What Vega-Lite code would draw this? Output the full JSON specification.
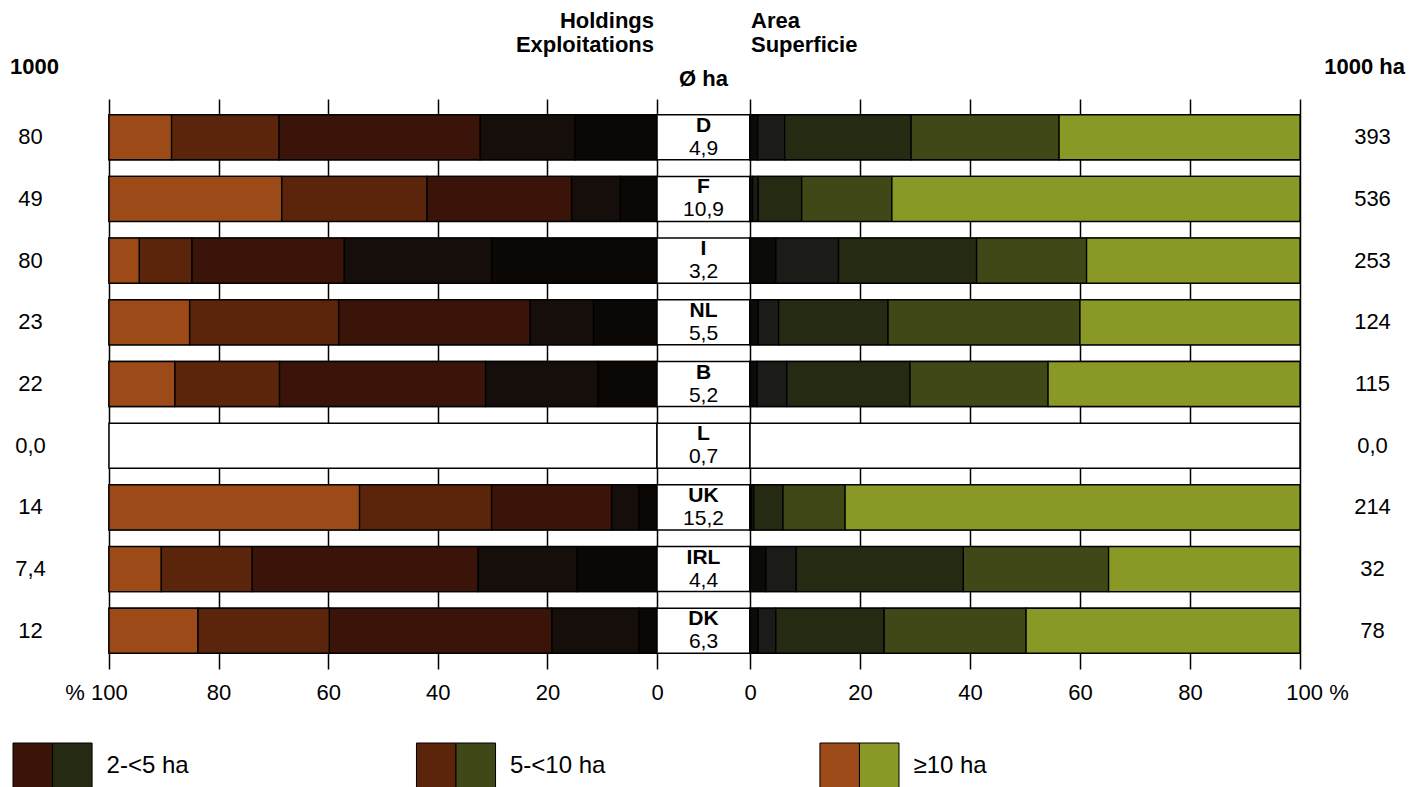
{
  "$schema": "https://vega.github.io/schema/vega-lite/v6.json",
  "background": "white",
  "padding": {"left": 0, "right": 0, "top": 10, "bottom": 0},
  "config": {
    "font": "Liberation Sans",
    "view": {"stroke": null},
    "title": {"fontSize": 22, "fontWeight": "bold", "color": "black", "font": "Liberation Sans", "lineHeight": 24, "frame": "group"},
    "text": {"font": "Liberation Sans", "fontSize": 22, "color": "black"}
  },
  "datasets": {
    "countries": [
      {"country": "D", "holdings_k": "80", "area_k": "393", "avg": "4,9"},
      {"country": "F", "holdings_k": "49", "area_k": "536", "avg": "10,9"},
      {"country": "I", "holdings_k": "80", "area_k": "253", "avg": "3,2"},
      {"country": "NL", "holdings_k": "23", "area_k": "124", "avg": "5,5"},
      {"country": "B", "holdings_k": "22", "area_k": "115", "avg": "5,2"},
      {"country": "L", "holdings_k": "0,0", "area_k": "0,0", "avg": "0,7"},
      {"country": "UK", "holdings_k": "14", "area_k": "214", "avg": "15,2"},
      {"country": "IRL", "holdings_k": "7,4", "area_k": "32", "avg": "4,4"},
      {"country": "DK", "holdings_k": "12", "area_k": "78", "avg": "6,3"}
    ],
    "sizes": [
      {"country": "D", "cls": "<1 ha", "rank": 1, "holdings": 15.0, "area": 1.4},
      {"country": "D", "cls": "1-<2 ha", "rank": 2, "holdings": 17.3, "area": 4.9},
      {"country": "D", "cls": "2-<5 ha", "rank": 3, "holdings": 36.7, "area": 23.0},
      {"country": "D", "cls": "5-<10 ha", "rank": 4, "holdings": 19.6, "area": 26.9},
      {"country": "D", "cls": "≥10 ha", "rank": 5, "holdings": 11.4, "area": 43.8},
      {"country": "F", "cls": "<1 ha", "rank": 1, "holdings": 6.7, "area": 0.5},
      {"country": "F", "cls": "1-<2 ha", "rank": 2, "holdings": 8.9, "area": 1.0},
      {"country": "F", "cls": "2-<5 ha", "rank": 3, "holdings": 26.4, "area": 7.9},
      {"country": "F", "cls": "5-<10 ha", "rank": 4, "holdings": 26.5, "area": 16.4},
      {"country": "F", "cls": "≥10 ha", "rank": 5, "holdings": 31.5, "area": 74.2},
      {"country": "I", "cls": "<1 ha", "rank": 1, "holdings": 30.2, "area": 4.7},
      {"country": "I", "cls": "1-<2 ha", "rank": 2, "holdings": 26.9, "area": 11.4},
      {"country": "I", "cls": "2-<5 ha", "rank": 3, "holdings": 27.8, "area": 25.1},
      {"country": "I", "cls": "5-<10 ha", "rank": 4, "holdings": 9.6, "area": 20.0},
      {"country": "I", "cls": "≥10 ha", "rank": 5, "holdings": 5.5, "area": 38.8},
      {"country": "NL", "cls": "<1 ha", "rank": 1, "holdings": 11.6, "area": 1.5},
      {"country": "NL", "cls": "1-<2 ha", "rank": 2, "holdings": 11.6, "area": 3.7},
      {"country": "NL", "cls": "2-<5 ha", "rank": 3, "holdings": 34.9, "area": 19.9},
      {"country": "NL", "cls": "5-<10 ha", "rank": 4, "holdings": 27.2, "area": 34.9},
      {"country": "NL", "cls": "≥10 ha", "rank": 5, "holdings": 14.7, "area": 40.0},
      {"country": "B", "cls": "<1 ha", "rank": 1, "holdings": 10.8, "area": 1.3},
      {"country": "B", "cls": "1-<2 ha", "rank": 2, "holdings": 20.5, "area": 5.4},
      {"country": "B", "cls": "2-<5 ha", "rank": 3, "holdings": 37.6, "area": 22.4},
      {"country": "B", "cls": "5-<10 ha", "rank": 4, "holdings": 19.1, "area": 25.1},
      {"country": "B", "cls": "≥10 ha", "rank": 5, "holdings": 12.0, "area": 45.8},
      {"country": "UK", "cls": "<1 ha", "rank": 1, "holdings": 3.3, "area": 0.3},
      {"country": "UK", "cls": "1-<2 ha", "rank": 2, "holdings": 5.0, "area": 0.4},
      {"country": "UK", "cls": "2-<5 ha", "rank": 3, "holdings": 21.9, "area": 5.3},
      {"country": "UK", "cls": "5-<10 ha", "rank": 4, "holdings": 24.1, "area": 11.3},
      {"country": "UK", "cls": "≥10 ha", "rank": 5, "holdings": 45.7, "area": 82.7},
      {"country": "IRL", "cls": "<1 ha", "rank": 1, "holdings": 14.6, "area": 2.9},
      {"country": "IRL", "cls": "1-<2 ha", "rank": 2, "holdings": 18.1, "area": 5.5},
      {"country": "IRL", "cls": "2-<5 ha", "rank": 3, "holdings": 41.2, "area": 30.4},
      {"country": "IRL", "cls": "5-<10 ha", "rank": 4, "holdings": 16.6, "area": 26.4},
      {"country": "IRL", "cls": "≥10 ha", "rank": 5, "holdings": 9.5, "area": 34.8},
      {"country": "DK", "cls": "<1 ha", "rank": 1, "holdings": 3.3, "area": 1.5},
      {"country": "DK", "cls": "1-<2 ha", "rank": 2, "holdings": 15.9, "area": 3.2},
      {"country": "DK", "cls": "2-<5 ha", "rank": 3, "holdings": 40.6, "area": 19.7},
      {"country": "DK", "cls": "5-<10 ha", "rank": 4, "holdings": 24.0, "area": 25.8},
      {"country": "DK", "cls": "≥10 ha", "rank": 5, "holdings": 16.2, "area": 49.8}
    ],
    "legend": [
      {"cls": "2-<5 ha", "side": "Holdings"},
      {"cls": "2-<5 ha", "side": "Area"},
      {"cls": "5-<10 ha", "side": "Holdings"},
      {"cls": "5-<10 ha", "side": "Area"},
      {"cls": "≥10 ha", "side": "Holdings"},
      {"cls": "≥10 ha", "side": "Area"}
    ]
  },
  "spacing": 39,
  "resolve": {"scale": {"color": "independent"}},
  "vconcat": [
    {
      "spacing": 0,
      "bounds": "flush",
      "resolve": {"scale": {"color": "independent"}},
      "hconcat": [
        {
          "width": 109,
          "height": 570,
          "data": {"name": "countries"},
          "title": {"text": "1000", "anchor": "start", "offset": 20, "dx": 10},
          "mark": {"type": "text", "fontSize": 22, "dx": -24},
          "encoding": {
            "y": {"field": "country", "type": "nominal", "sort": ["D","F","I","NL","B","L","UK","IRL","DK"], "axis": null,
                  "scale": {"type": "band", "paddingInner": 0.27, "paddingOuter": 0.255}},
            "text": {"field": "holdings_k", "type": "nominal"}
          }
        },
        {
          "width": 548,
          "height": 570,
          "title": {"text": ["Holdings", "Exploitations"], "anchor": "end", "offset": 42, "dx": -3},
          "layer": [
            {
              "data": {"name": "countries"},
              "mark": {"type": "bar", "fill": "white", "stroke": "black", "strokeWidth": 1.5},
              "encoding": {
                "y": {"field": "country", "type": "nominal", "sort": ["D","F","I","NL","B","L","UK","IRL","DK"], "axis": null,
                      "scale": {"type": "band", "paddingInner": 0.27, "paddingOuter": 0.255}},
                "x": {"datum": 0, "type": "quantitative",
                      "scale": {"domain": [0, 100], "reverse": true, "nice": false, "zero": true},
                      "axis": {"orient": "bottom", "values": [0, 20, 40, 60, 80, 100], "grid": true, "gridColor": "black", "gridWidth": 1.5, "gridOpacity": 1,
                               "domain": false, "ticks": false, "labelFontSize": 22, "labelColor": "black", "labelPadding": 13, "labelFlush": false, "labelBound": false,
                               "labelOverlap": false, "title": null,
                               "labelExpr": "datum.value == 100 ? '% 100' : datum.label",
                               "labelOffset": {"condition": {"test": "datum.value == 100", "value": -13}, "value": 0}}},
                "x2": {"datum": 100}
              }
            },
            {
              "data": {"name": "sizes"},
              "mark": {"type": "bar", "stroke": "black", "strokeWidth": 1.3},
              "encoding": {
                "y": {"field": "country", "type": "nominal", "sort": ["D","F","I","NL","B","L","UK","IRL","DK"], "axis": null,
                      "scale": {"type": "band", "paddingInner": 0.27, "paddingOuter": 0.255}},
                "x": {"field": "holdings", "type": "quantitative", "stack": "zero"},
                "color": {"field": "cls", "type": "nominal", "legend": null,
                          "scale": {"domain": ["<1 ha", "1-<2 ha", "2-<5 ha", "5-<10 ha", "≥10 ha"],
                                    "range": ["#0a0705", "#150e0a", "#3b1409", "#5b250c", "#9c4b18"]}},
                "order": {"field": "rank", "type": "quantitative"}
              }
            }
          ]
        },
        {
          "width": 93,
          "height": 570,
          "data": {"name": "countries"},
          "title": {"text": "Ø ha", "anchor": "middle", "offset": 8},
          "layer": [
            {
              "mark": {"type": "bar", "fill": "white", "stroke": "black", "strokeWidth": 1.5},
              "encoding": {
                "y": {"field": "country", "type": "nominal", "sort": ["D","F","I","NL","B","L","UK","IRL","DK"], "axis": null,
                      "scale": {"type": "band", "paddingInner": 0.27, "paddingOuter": 0.255}},
                "x": {"datum": 0, "type": "quantitative", "scale": {"domain": [0, 1], "nice": false}, "axis": null},
                "x2": {"datum": 1}
              }
            },
            {
              "mark": {"type": "text", "fontWeight": "bold", "fontSize": 21, "dy": -11.5},
              "encoding": {
                "y": {"field": "country", "type": "nominal", "sort": ["D","F","I","NL","B","L","UK","IRL","DK"], "axis": null,
                      "scale": {"type": "band", "paddingInner": 0.27, "paddingOuter": 0.255}},
                "text": {"field": "country", "type": "nominal"}
              }
            },
            {
              "mark": {"type": "text", "fontSize": 21, "dy": 11.5},
              "encoding": {
                "y": {"field": "country", "type": "nominal", "sort": ["D","F","I","NL","B","L","UK","IRL","DK"], "axis": null,
                      "scale": {"type": "band", "paddingInner": 0.27, "paddingOuter": 0.255}},
                "text": {"field": "avg", "type": "nominal"}
              }
            }
          ]
        },
        {
          "width": 550,
          "height": 570,
          "title": {"text": ["Area", "Superficie"], "anchor": "start", "offset": 42, "dx": 1},
          "layer": [
            {
              "data": {"name": "countries"},
              "mark": {"type": "bar", "fill": "white", "stroke": "black", "strokeWidth": 1.5},
              "encoding": {
                "y": {"field": "country", "type": "nominal", "sort": ["D","F","I","NL","B","L","UK","IRL","DK"], "axis": null,
                      "scale": {"type": "band", "paddingInner": 0.27, "paddingOuter": 0.255}},
                "x": {"datum": 0, "type": "quantitative",
                      "scale": {"domain": [0, 100], "nice": false, "zero": true},
                      "axis": {"orient": "bottom", "values": [0, 20, 40, 60, 80, 100], "grid": true, "gridColor": "black", "gridWidth": 1.5, "gridOpacity": 1,
                               "domain": false, "ticks": false, "labelFontSize": 22, "labelColor": "black", "labelPadding": 13, "labelFlush": false, "labelBound": false,
                               "labelOverlap": false, "title": null,
                               "labelExpr": "datum.value == 100 ? '100 %' : datum.label",
                               "labelOffset": {"condition": {"test": "datum.value == 100", "value": 17}, "value": 0}}},
                "x2": {"datum": 100}
              }
            },
            {
              "data": {"name": "sizes"},
              "mark": {"type": "bar", "stroke": "black", "strokeWidth": 1.3},
              "encoding": {
                "y": {"field": "country", "type": "nominal", "sort": ["D","F","I","NL","B","L","UK","IRL","DK"], "axis": null,
                      "scale": {"type": "band", "paddingInner": 0.27, "paddingOuter": 0.255}},
                "x": {"field": "area", "type": "quantitative", "stack": "zero"},
                "color": {"field": "cls", "type": "nominal", "legend": null,
                          "scale": {"domain": ["<1 ha", "1-<2 ha", "2-<5 ha", "5-<10 ha", "≥10 ha"],
                                    "range": ["#0b0b09", "#1b1c17", "#252a12", "#3f4816", "#8a9826"]}},
                "order": {"field": "rank", "type": "quantitative"}
              }
            }
          ]
        },
        {
          "width": 121,
          "height": 570,
          "data": {"name": "countries"},
          "title": {"text": "1000 ha", "anchor": "end", "offset": 20, "dx": -16},
          "mark": {"type": "text", "fontSize": 22, "dx": 12},
          "encoding": {
            "y": {"field": "country", "type": "nominal", "sort": ["D","F","I","NL","B","L","UK","IRL","DK"], "axis": null,
                  "scale": {"type": "band", "paddingInner": 0.27, "paddingOuter": 0.255}},
            "text": {"field": "area_k", "type": "nominal"}
          }
        }
      ]
    },
    {
      "width": 1421,
      "height": 45,
      "data": {"name": "legend"},
      "resolve": {"scale": {"color": "independent"}},
      "layer": [
        {
          "transform": [{"filter": "datum.side == 'Holdings'"}],
          "mark": {"type": "bar", "stroke": "black", "strokeWidth": 1},
          "encoding": {
            "x": {"field": "cls", "type": "nominal", "sort": ["2-<5 ha", "5-<10 ha", "≥10 ha"], "axis": null,
                  "scale": {"type": "band", "paddingInner": 0.804, "paddingOuter": 0.663, "align": 0.0243}},
            "xOffset": {"field": "side", "type": "nominal", "scale": {"domain": ["Holdings", "Area"], "paddingInner": 0, "paddingOuter": 0}},
            "y": {"datum": 0, "type": "quantitative", "scale": {"domain": [0, 1]}, "axis": null},
            "y2": {"datum": 1},
            "color": {"field": "cls", "type": "nominal", "legend": null,
                      "scale": {"domain": ["<1 ha", "1-<2 ha", "2-<5 ha", "5-<10 ha", "≥10 ha"],
                                "range": ["#0a0705", "#150e0a", "#3b1409", "#5b250c", "#9c4b18"]}}
          }
        },
        {
          "transform": [{"filter": "datum.side == 'Area'"}],
          "mark": {"type": "bar", "stroke": "black", "strokeWidth": 1},
          "encoding": {
            "x": {"field": "cls", "type": "nominal", "sort": ["2-<5 ha", "5-<10 ha", "≥10 ha"], "axis": null},
            "xOffset": {"field": "side", "type": "nominal"},
            "y": {"datum": 0, "type": "quantitative", "axis": null},
            "y2": {"datum": 1},
            "color": {"field": "cls", "type": "nominal", "legend": null,
                      "scale": {"domain": ["<1 ha", "1-<2 ha", "2-<5 ha", "5-<10 ha", "≥10 ha"],
                                "range": ["#0b0b09", "#1b1c17", "#252a12", "#3f4816", "#8a9826"]}}
          }
        },
        {
          "transform": [{"filter": "datum.side == 'Holdings'"}],
          "mark": {"type": "text", "align": "left", "fontSize": 24, "dx": 54},
          "encoding": {
            "x": {"field": "cls", "type": "nominal", "sort": ["2-<5 ha", "5-<10 ha", "≥10 ha"], "axis": null},
            "text": {"field": "cls", "type": "nominal"}
          }
        }
      ]
    }
  ]
}
